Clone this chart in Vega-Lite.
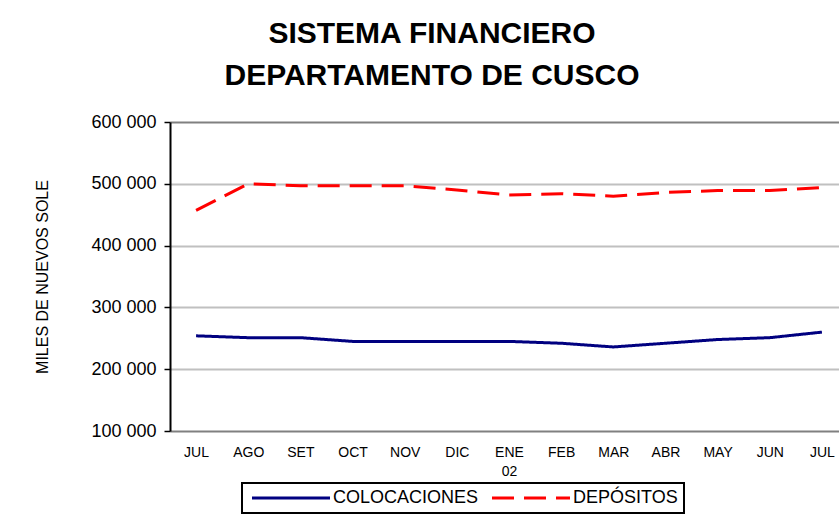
{
  "$schema": "https://vega.github.io/schema/vega-lite/v6.json",
  "width": 678,
  "height": 309,
  "autosize": {"type": "none"},
  "padding": {"left": 170, "top": 122, "right": 0, "bottom": 89},
  "background": "white",
  "config": {
    "font": "Liberation Sans",
    "view": {"stroke": null},
    "legend": {
      "strokeColor": "black",
      "strokeWidth": 2,
      "fillColor": "white",
      "padding": 6
    }
  },
  "title": {
    "text": ["SISTEMA FINANCIERO", "DEPARTAMENTO DE CUSCO"],
    "font": "Liberation Sans",
    "fontSize": 30,
    "fontWeight": "bold",
    "color": "black",
    "lineHeight": 42,
    "anchor": "middle",
    "dx": -77,
    "offset": 22
  },
  "data": {
    "values": [
      {"mes": "JUL 01", "serie": "COLOCACIONES", "valor": 254000},
      {"mes": "AGO", "serie": "COLOCACIONES", "valor": 251000},
      {"mes": "SET", "serie": "COLOCACIONES", "valor": 251000},
      {"mes": "OCT", "serie": "COLOCACIONES", "valor": 245000},
      {"mes": "NOV", "serie": "COLOCACIONES", "valor": 245000},
      {"mes": "DIC", "serie": "COLOCACIONES", "valor": 245000},
      {"mes": "ENE 02", "serie": "COLOCACIONES", "valor": 245000},
      {"mes": "FEB", "serie": "COLOCACIONES", "valor": 242000},
      {"mes": "MAR", "serie": "COLOCACIONES", "valor": 236000},
      {"mes": "ABR", "serie": "COLOCACIONES", "valor": 242000},
      {"mes": "MAY", "serie": "COLOCACIONES", "valor": 248000},
      {"mes": "JUN", "serie": "COLOCACIONES", "valor": 251000},
      {"mes": "JUL 02", "serie": "COLOCACIONES", "valor": 260000},
      {"mes": "JUL 01", "serie": "DEPÓSITOS", "valor": 457000},
      {"mes": "AGO", "serie": "DEPÓSITOS", "valor": 500000},
      {"mes": "SET", "serie": "DEPÓSITOS", "valor": 497000},
      {"mes": "OCT", "serie": "DEPÓSITOS", "valor": 497000},
      {"mes": "NOV", "serie": "DEPÓSITOS", "valor": 497000},
      {"mes": "DIC", "serie": "DEPÓSITOS", "valor": 490000},
      {"mes": "ENE 02", "serie": "DEPÓSITOS", "valor": 482000},
      {"mes": "FEB", "serie": "DEPÓSITOS", "valor": 484000},
      {"mes": "MAR", "serie": "DEPÓSITOS", "valor": 480000},
      {"mes": "ABR", "serie": "DEPÓSITOS", "valor": 486000},
      {"mes": "MAY", "serie": "DEPÓSITOS", "valor": 489000},
      {"mes": "JUN", "serie": "DEPÓSITOS", "valor": 489000},
      {"mes": "JUL 02", "serie": "DEPÓSITOS", "valor": 494000}
    ]
  },
  "mark": {"type": "line", "strokeWidth": 3},
  "encoding": {
    "x": {
      "field": "mes",
      "type": "ordinal",
      "sort": ["JUL 01", "AGO", "SET", "OCT", "NOV", "DIC", "ENE 02", "FEB", "MAR", "ABR", "MAY", "JUN", "JUL 02"],
      "scale": {"type": "point", "padding": 0.5},
      "axis": {
        "title": null,
        "labelAngle": 0,
        "ticks": false,
        "domain": false,
        "grid": false,
        "labelExpr": "datum.value == 'ENE 02' ? ['ENE', '02'] : slice(datum.value, 0, 3)",
        "labelFontSize": 14,
        "labelLineHeight": 19,
        "labelColor": "black",
        "labelPadding": 14,
        "labelBaseline": "top"
      }
    },
    "y": {
      "field": "valor",
      "type": "quantitative",
      "scale": {"domain": [100000, 600000], "nice": false, "zero": false},
      "axis": {
        "title": "MILES DE NUEVOS SOLE",
        "values": [100000, 200000, 300000, 400000, 500000, 600000],
        "labelExpr": "replace(format(datum.value, ','), ',', ' ')",
        "labelFontSize": 18,
        "labelColor": "black",
        "labelPadding": 8,
        "tickSize": 6,
        "tickColor": "black",
        "tickWidth": 1.5,
        "domainColor": "black",
        "domainWidth": 2,
        "gridColor": {"condition": {"test": "datum.value == 100000 || datum.value == 600000", "value": "#808080"}, "value": "#c0c0c0"},
        "gridWidth": 2,
        "titleFontSize": 16,
        "titleFontWeight": "normal",
        "titleColor": "black",
        "titlePadding": 40
      }
    },
    "color": {
      "field": "serie",
      "type": "nominal",
      "scale": {"domain": ["COLOCACIONES", "DEPÓSITOS"], "range": ["#000080", "#ff0000"]},
      "legend": {
        "title": null,
        "orient": "none",
        "legendX": 72,
        "legendY": 361,
        "direction": "horizontal",
        "symbolType": "M-1,0H14.6",
        "symbolSize": 100,
        "symbolStrokeWidth": 3,
        "labelFontSize": 18,
        "labelColor": "black",
        "labelOffset": 67,
        "columnPadding": 7
      }
    },
    "strokeDash": {
      "field": "serie",
      "type": "nominal",
      "scale": {"domain": ["COLOCACIONES", "DEPÓSITOS"], "range": [[1, 0], [22, 10]]},
      "legend": {
        "title": null,
        "orient": "none",
        "legendX": 72,
        "legendY": 361,
        "direction": "horizontal",
        "symbolType": "M-1,0H14.6",
        "symbolSize": 100,
        "symbolStrokeWidth": 3,
        "labelFontSize": 18,
        "labelColor": "black",
        "labelOffset": 67,
        "columnPadding": 7
      }
    }
  }
}
